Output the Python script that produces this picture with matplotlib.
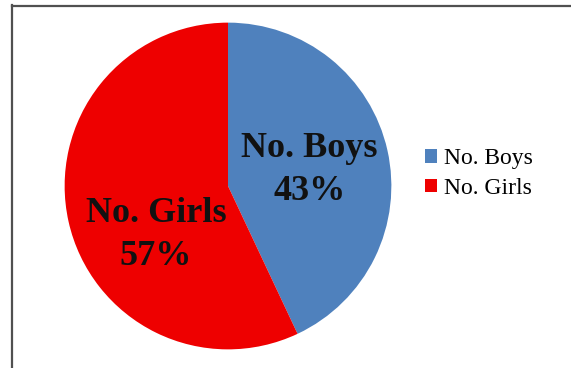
import matplotlib.pyplot as plt
from matplotlib.lines import Line2D

# student counts by gender (percent)
categories = ['No. Boys', 'No. Girls']
shares = [43, 57]
colors = ['#4F81BD', '#EE0000']

plt.rcParams['font.family'] = ['Liberation Serif', 'DejaVu Serif']

W, H = 571, 368
fig = plt.figure(figsize=(W / 100, H / 100), dpi=100)

# pie: centre (228, 186) px, radius 165 px
cx, cy, r = 228, 186, 165
ax = fig.add_axes([(cx - r) / W, (H - cy - r) / H, 2 * r / W, 2 * r / H])

labels = ['%s\n%d%%' % (c, v) for c, v in zip(categories, shares)]
wedges, texts = ax.pie(shares, colors=colors, startangle=90, counterclock=False,
                       labels=labels, labeldistance=0.52,
                       wedgeprops=dict(linewidth=0))
# label anchor points inside each slice
label_pos = [(0.50, 0.10), (-0.44, -0.30)]
for t, p in zip(texts, label_pos):
    t.set_position(p)
    t.set_ha('center')
    t.set_va('center')
    t.set_fontsize(26)
    t.set_fontweight('bold')
    t.set_linespacing(1.4)
    t.set_color('#111111')
ax.set_xlim(-1.01, 1.01)
ax.set_ylim(-1.01, 1.01)
ax.set_aspect('equal')
ax.axis('off')

# legend to the right of the pie
fig.legend(wedges, categories, loc='upper left',
           bbox_to_anchor=(416 / W, 1 - 139 / H), frameon=False,
           handlelength=0.5, handleheight=0.5, handletextpad=0.3,
           labelspacing=0.35, fontsize=17, borderaxespad=0)

# chart-area border (top and left edges)
fig.add_artist(Line2D([11.5 / W, 11.5 / W], [0, 1 - 5 / H], color='#505050', lw=1.6,
                      transform=fig.transFigure))
fig.add_artist(Line2D([11.5 / W, 1], [1 - 5.5 / H, 1 - 5.5 / H], color='#505050', lw=1.6,
                      transform=fig.transFigure))

fig.savefig('out.png', dpi=100)
